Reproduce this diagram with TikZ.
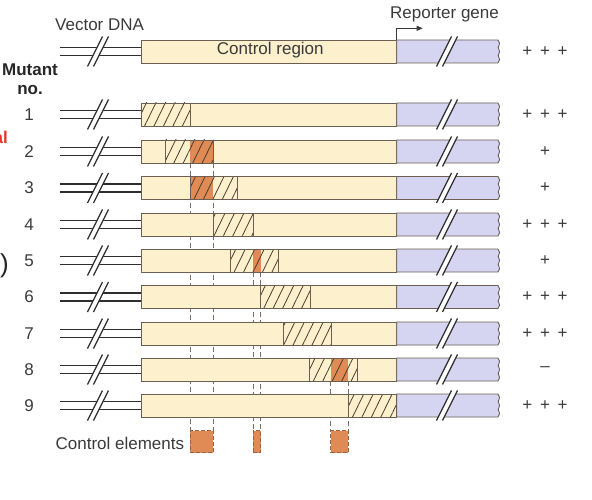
\documentclass[tikz,border=0pt]{standalone}
\usepackage{fontspec}
\setmainfont{Liberation Sans}
\usetikzlibrary{patterns.meta,arrows.meta}
\definecolor{ctrlfill}{HTML}{FDF0CD}
\definecolor{repfill}{HTML}{D5D5F2}
\definecolor{edgec}{HTML}{6A5F52}
\definecolor{elemc}{HTML}{E08A56}
\definecolor{txtc}{HTML}{3A3A3A}
\definecolor{hatchc}{HTML}{4A3B2C}
\definecolor{dashc}{HTML}{7A6C64}
\definecolor{redc}{HTML}{E53222}
\tikzset{
  dnaln/.style={draw=txtc!80!black, line width=1.8pt},
  slashln/.style={draw=txtc!80!black, line width=1.3pt},
  ctrlbox/.style={fill=ctrlfill, draw=edgec, line width=0.9pt},
  repbox/.style={fill=repfill, draw=edgec, line width=0.9pt},
  boxedge/.style={draw=edgec, line width=0.9pt},
  hatchfill/.style={pattern={Lines[angle=64,distance=8.5pt,line width=0.8pt]}, pattern color=hatchc},
  darkfill/.style={fill=elemc},
  dashln/.style={draw=dashc, line width=0.9pt, dash pattern=on 5pt off 3pt},
  elembox/.style={fill=elemc, draw=elemc!70!black, line width=1pt, dash pattern=on 4pt off 2pt, inner sep=0pt, outer sep=0pt},
  lbl/.style={text=txtc, font=\fontsize{17}{20}\selectfont, inner sep=0pt},
  boldlbl/.style={text=black!85, font=\fontsize{17}{20}\selectfont\bfseries, inner sep=0pt},
  arrowln/.style={draw=txtc, line width=1pt, -{Triangle[length=6pt,width=5pt]}}
}
\newcommand\slashbreak[2]{%
  \fill[white] ({#1-10.5},{#2+15}) -- ({#1+4.5},{#2-15}) -- ({#1+10.5},{#2-15}) -- ({#1-4.5},{#2+15}) -- cycle;
  \draw[slashln] ({#1-10.5},{#2+15}) -- ({#1+4.5},{#2-15});
  \draw[slashln] ({#1-4.5},{#2+15}) -- ({#1+10.5},{#2-15});
}
\newcommand\dnarow[1]{%
  \draw[dnaln] (60,{#1-4}) -- (141.7,{#1-4});
  \draw[dnaln] (60,{#1+4}) -- (141.7,{#1+4});
  \slashbreak{98}{#1}
  \filldraw[ctrlbox] (141.7,{#1-11.5}) rectangle (396.7,{#1+11.5});
  \filldraw[repbox] (396.7,{#1-11.5}) -- (498,{#1-11.5}) -- (499.6,{#1-8}) -- (498.2,{#1-4}) -- (499.6,{#1}) -- (498.2,{#1+4}) -- (499.6,{#1+8}) -- (498,{#1+11.5}) -- (396.7,{#1+11.5}) -- cycle;
  \slashbreak{447}{#1}
}
\newcommand\hatchbox[3]{%
  \fill[hatchfill] (#1,{#3-11.5}) rectangle (#2,{#3+11.5});
  \draw[boxedge] (#1,{#3-11.5}) rectangle (#2,{#3+11.5});
}
\newcommand\darkbox[3]{\fill[darkfill] (#1,{#3-11.5}) rectangle (#2,{#3+11.5});}
\newcommand\ppp{+\hspace{3pt} +\hspace{3pt} +}
\begin{document}
\begin{tikzpicture}[x=1pt,y=-1pt]
\useasboundingbox (0,0) rectangle (592,500);
% dashed guide lines (behind the boxes)
\coordinate (d1t) at (190,163);   \coordinate (d1b) at (190,430.7);
\coordinate (d2t) at (213.3,163); \coordinate (d2b) at (213.3,430.7);
\coordinate (d3t) at (253.3,272); \coordinate (d3b) at (253.3,430.7);
\coordinate (d4t) at (260.7,272); \coordinate (d4b) at (260.7,430.7);
\coordinate (d5t) at (330.7,381); \coordinate (d5b) at (330.7,430.7);
\coordinate (d6t) at (348.3,381); \coordinate (d6b) at (348.3,430.7);
\foreach \i in {1,...,6} {\draw[dashln] (d\i t) -- (d\i b);}
% rows
\foreach \yc in {51.5,114.5,151.5,188,224.5,260.5,297,333.5,369.5,405.5} {\dnarow{\yc}}
% mutations
\hatchbox{141.7}{190}{114.5}
\darkbox{190}{213.3}{151.5}\hatchbox{165.7}{213.3}{151.5}
\darkbox{190}{213.3}{188}\hatchbox{190}{237.7}{188}
\hatchbox{213.3}{253.3}{224.5}
\darkbox{253.3}{260.7}{260.5}\hatchbox{230}{278.3}{260.5}
\hatchbox{260.7}{310}{297}
\hatchbox{283.3}{331.7}{333.5}
\darkbox{330.7}{348.3}{369.5}\hatchbox{309.3}{357.7}{369.5}
\hatchbox{348.3}{396.7}{405.5}
% control elements
\node[elembox, minimum width=23.3pt, minimum height=22pt] (ce1) at (201.65,441.7) {};
\node[elembox, minimum width=7.4pt, minimum height=22pt] (ce2) at (257,441.7) {};
\node[elembox, minimum width=17.6pt, minimum height=22pt] (ce3) at (339.5,441.7) {};
\node[lbl, anchor=base east] (celbl) at (184.3,449) {Control elements};
% reporter arrow
\coordinate (tss) at (396.7,40);
\coordinate (tsstop) at (396.7,28.3);
\coordinate (tssend) at (422.7,28.3);
\draw[arrowln] (tss) -- (tsstop) -- (tssend);
% labels
\node[lbl, anchor=base west] (vec) at (55,30.7) {Vector DNA};
\node[lbl, anchor=base west] (ctl) at (216.7,55) {Control region};
\node[lbl, anchor=base west] (rep) at (390,18.5) {Reporter gene};
\node[boldlbl, anchor=base] (mut) at (30,76) {Mutant};
\node[boldlbl, anchor=base] (no) at (30,94.5) {no.};
\foreach \n/\yc in {1/114.5,2/151.5,3/188,4/224.5,5/260.5,6/297,7/333.5,8/369.5,9/405.5}
  {\node[lbl] (num\n) at (29,\yc) {\n};}
\node[lbl] (r0) at (545,51.5) {\ppp};
\node[lbl] (r1) at (545,114.5) {\ppp};
\node[lbl] (r2) at (545,151.5) {+};
\node[lbl] (r3) at (545,188) {+};
\node[lbl] (r4) at (545,224.5) {\ppp};
\node[lbl] (r5) at (545,260.5) {+};
\node[lbl] (r6) at (545,297) {\ppp};
\node[lbl] (r7) at (545,333.5) {\ppp};
\node[lbl] (r8) at (545,369.5) {–};
\node[lbl] (r9) at (545,405.5) {\ppp};
% cropped fragments at the left edge (cut off in the reference too)
\node[text=redc, font=\fontsize{17}{20}\selectfont\bfseries, inner sep=0pt, anchor=base east] (frag1) at (8,144) {al};
\node[text=black!85, font=\fontsize{26}{30}\selectfont, inner sep=0pt, anchor=east] (frag2) at (9,266) {)};
\end{tikzpicture}
\end{document}
